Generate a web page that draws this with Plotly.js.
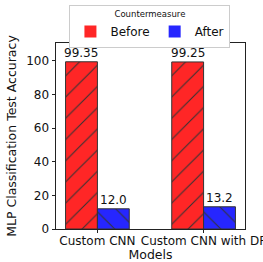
<!DOCTYPE html>
<html><head><meta charset="utf-8">
<script src="https://cdn.plot.ly/plotly-3.0.1.min.js"></script>
<style>html,body{margin:0;padding:0;background:#fff}#c{width:263px;height:262px}</style>
</head><body><div id="c"></div>
<script>
const models = ["Custom CNN", "Custom CNN with DP"];
const before = [99.35, 99.25];
const after = [12.0, 13.2];
const seriesNames = ["Before", "After"];
const yTicks = [0, 20, 40, 60, 80, 100];

const red = "rgb(255,38,38)";
const blue = "rgb(38,38,255)";
const font = "DejaVu Sans, sans-serif";

const traces = [
  {type:"bar", x:models, y:before, name:seriesNames[0], showlegend:false,
   offset:-0.3, width:0.3,
   marker:{color:red, line:{color:"#333", width:1}, pattern:{shape:"/", fgcolor:"#333", bgcolor:red, size:15, solidity:0.07}}},
  {type:"bar", x:models, y:after, name:seriesNames[1], showlegend:false,
   offset:0, width:0.3,
   marker:{color:blue, line:{color:"#333", width:1}, pattern:{shape:"\\", fgcolor:"#333", bgcolor:blue, size:15, solidity:0.07}}},
  {type:"bar", x:[models[0]], y:[null], name:seriesNames[0], marker:{color:red}},
  {type:"bar", x:[models[0]], y:[null], name:seriesNames[1], marker:{color:blue}}
];

const annotations = [];
models.forEach((m, i) => {
  annotations.push({x:m, y:before[i], xref:"x", yref:"y", text:before[i].toFixed(2), showarrow:false,
    xanchor:"center", yanchor:"bottom", xshift:-0.15*106.7, yshift:0, font:{size:12, color:"#111"}});
  annotations.push({x:m, y:after[i], xref:"x", yref:"y", text:after[i].toFixed(1), showarrow:false,
    xanchor:"center", yanchor:"bottom", xshift:0.15*106.7, yshift:0, font:{size:12, color:"#111"}});
});

const layout = {
  width:263, height:262,
  margin:{l:56, r:18, t:43, b:33, autoexpand:false},
  paper_bgcolor:"#fff", plot_bgcolor:"#fff",
  font:{family:font, color:"#111", size:12},
  barmode:"overlay",
  annotations:annotations,
  xaxis:{type:"category", range:[-0.39, 1.39], showline:true, mirror:true, linecolor:"#222", linewidth:1,
    ticks:"outside", ticklen:3, tickcolor:"#222", tickfont:{size:12}, ticklabelstandoff:-2, showgrid:false,
    title:{text:"Models", font:{size:12.5}, standoff:4}, automargin:false},
  yaxis:{range:[0, 110.5], tickvals:yTicks, showline:true, mirror:true, linecolor:"#222", linewidth:1,
    ticks:"outside", ticklen:3.5, tickcolor:"#222", tickfont:{size:12}, showgrid:false, zeroline:false,
    title:{text:"MLP Classification Test Accuracy", font:{size:12.5}, standoff:6}, automargin:false},
  legend:{orientation:"h", x:0.497, xanchor:"center", y:1.204, yanchor:"top",
    bgcolor:"#fff", bordercolor:"#ccc", borderwidth:1,
    title:{text:"Countermeasure", side:"top center", font:{size:8.5}},
    font:{size:12}, itemwidth:30},
};

Plotly.newPlot("c", traces, layout, {displayModeBar:false, staticPlot:true});
</script></body></html>
